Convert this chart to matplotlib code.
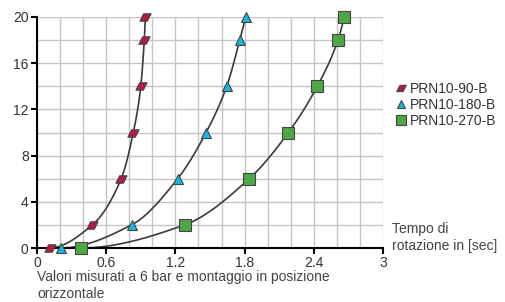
import numpy as np
import matplotlib
matplotlib.use("Agg")
import matplotlib.pyplot as plt
from matplotlib.path import Path

plt.rcParams['font.family'] = ['Liberation Sans', 'DejaVu Sans']

# data (time in sec, angle/position value)
series_names = ["PRN10-90-B", "PRN10-180-B", "PRN10-270-B"]
y_vals = [0, 2, 6, 10, 14, 18, 20]
x_90 = [0.11, 0.48, 0.73, 0.835, 0.90, 0.93, 0.94]
x_180 = [0.21, 0.82, 1.22, 1.466, 1.645, 1.758, 1.81]
x_270 = [0.385, 1.28, 1.84, 2.18, 2.43, 2.61, 2.665]

x_ticks = [0, 0.6, 1.2, 1.8, 2.4, 3]
x_tick_labels = ["0", "0.6", "1.2", "1.8", "2.4", "3"]
y_ticks = [0, 4, 8, 12, 16, 20]

colors = ["#b31c42", "#1cb4dc", "#4ea647"]
edge = "#444444"

# slanted square marker
para = Path([(-0.75, -0.5), (0.25, -0.5), (0.75, 0.5), (-0.25, 0.5), (-0.75, -0.5)],
            [Path.MOVETO, Path.LINETO, Path.LINETO, Path.LINETO, Path.CLOSEPOLY])
markers = [para, "^", "s"]
msizes = [8, 7.5, 9]


def pchip(x, y, xs):
    # monotone cubic interpolation (Fritsch-Carlson), just for drawing the line
    x = np.asarray(x, float)
    y = np.asarray(y, float)
    h = np.diff(x)
    d = np.diff(y) / h
    m = np.zeros_like(x)
    m[-1] = d[-1]
    for k in range(1, len(x) - 1):
        if d[k - 1] * d[k] <= 0:
            m[k] = 0
        else:
            w1 = 2 * h[k] + h[k - 1]
            w2 = h[k] + 2 * h[k - 1]
            m[k] = (w1 + w2) / (w1 / d[k - 1] + w2 / d[k])
    m[0] = 0
    out = np.empty_like(xs)
    for i, xv in enumerate(xs):
        k = min(np.searchsorted(x, xv) - 1, len(x) - 2)
        k = max(k, 0)
        t = (xv - x[k]) / h[k]
        h00 = 2 * t**3 - 3 * t**2 + 1
        h10 = t**3 - 2 * t**2 + t
        h01 = -2 * t**3 + 3 * t**2
        h11 = t**3 - t**2
        out[i] = h00 * y[k] + h10 * h[k] * m[k] + h01 * y[k + 1] + h11 * h[k] * m[k + 1]
    return out


fig = plt.figure(figsize=(5.06, 3.02), dpi=100)
ax = fig.add_axes([37 / 506, 1 - 248 / 302, 346 / 506, 231 / 302])

# grid
for gx in np.arange(0, 3.01, 0.2):
    ax.axvline(gx, color="#c4c4c4", lw=1, zorder=0)
for gy in np.arange(0, 20.1, 2):
    ax.axhline(gy, color="#c4c4c4", lw=1, zorder=0)

for xs, name, c, mk, ms in zip([x_90, x_180, x_270], series_names, colors, markers, msizes):
    xx = np.linspace(xs[0], xs[-1], 300)
    ax.plot(xx, pchip(xs, y_vals, xx), color="#3a3a3a", lw=1.2, zorder=2)
    ax.plot(xs, y_vals, linestyle="none", marker=mk, markersize=ms,
            markerfacecolor=c, markeredgecolor=edge, markeredgewidth=0.8,
            label=name, zorder=3, clip_on=False)

ax.set_xlim(0, 3)
ax.set_ylim(0, 20)
ax.set_xticks(x_ticks)
ax.set_xticklabels(x_tick_labels)
ax.set_yticks(y_ticks)
ax.tick_params(axis="both", labelsize=10, colors="#333333", length=4, width=1.5, pad=2)
ax.tick_params(axis="both", color="black")
for s in ["top", "right"]:
    ax.spines[s].set_visible(False)
for s in ["left", "bottom"]:
    ax.spines[s].set_linewidth(1.5)
    ax.spines[s].set_color("black")

leg = ax.legend(loc="upper left", bbox_to_anchor=(1.0, 0.76), frameon=False,
                fontsize=10, handletextpad=0.0, handlelength=1.2, labelspacing=0.15,
                borderaxespad=0.3, labelcolor="#333333", markerscale=0.85)

fig.text(37 / 506, 1 - 270 / 302, "Valori misurati a 6 bar e montaggio in posizione\norizzontale",
         ha="left", va="top", fontsize=10, color="#444444", linespacing=1.3)
fig.text(392 / 506, 1 - 222 / 302, "Tempo di\nrotazione in [sec]",
         ha="left", va="top", fontsize=10, color="#444444", linespacing=1.3)

fig.savefig("out.png", dpi=100)
